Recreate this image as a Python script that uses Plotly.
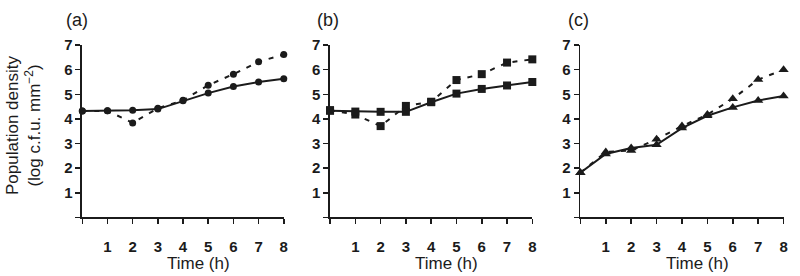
import plotly.graph_objects as go

hours = [0, 1, 2, 3, 4, 5, 6, 7, 8]

a_solid = [4.32, 4.33, 4.35, 4.40, 4.74, 5.05, 5.32, 5.50, 5.63]
a_dashed = [4.32, 4.33, 3.84, 4.43, 4.76, 5.37, 5.82, 6.32, 6.62]

b_solid = [4.33, 4.30, 4.29, 4.29, 4.68, 5.03, 5.22, 5.36, 5.50]
b_dashed = [4.36, 4.18, 3.71, 4.53, 4.70, 5.58, 5.82, 6.29, 6.42]

c_solid = [1.82, 2.58, 2.82, 2.95, 3.63, 4.13, 4.47, 4.75, 4.93]
c_dashed = [1.82, 2.66, 2.72, 3.18, 3.71, 4.18, 4.82, 5.60, 6.00]

panel_labels = ["(a)", "(b)", "(c)"]
markers = ["circle", "square", "triangle-up"]
marker_sizes = [7, 8, 9]

x_ticks = [1, 2, 3, 4, 5, 6, 7, 8]
y_ticks = [1, 2, 3, 4, 5, 6, 7]

x_title = "Time (h)"
y_title = "Population density<br>(log c.f.u. mm<sup>−2</sup>)"

series = [(a_solid, a_dashed), (b_solid, b_dashed), (c_solid, c_dashed)]

W, H = 800, 276


def px(X):
    return X / W


def py(Y):
    return 1 - Y / H


x_pix = [[82.7, 285.2], [331.7, 535.0], [583.3, 787.5]]
y_pix = [215.5, 37.3]
label_x = [77, 330, 581]

INK = "#1b1b1b"
FONT = "Liberation Sans, Arial, sans-serif"

fig = go.Figure()

for i, (solid, dashed) in enumerate(series):
    xa = "x" if i == 0 else f"x{i+1}"
    ya = "y" if i == 0 else f"y{i+1}"
    fig.add_trace(go.Scatter(
        x=hours, y=dashed, xaxis=xa, yaxis=ya, mode="lines+markers",
        line=dict(color=INK, width=2, dash="5px,7px"),
        marker=dict(symbol=markers[i], size=marker_sizes[i], color=INK),
        cliponaxis=False, showlegend=False, hoverinfo="skip"))
    fig.add_trace(go.Scatter(
        x=hours, y=solid, xaxis=xa, yaxis=ya, mode="lines+markers",
        line=dict(color=INK, width=2),
        marker=dict(symbol=markers[i], size=marker_sizes[i], color=INK),
        cliponaxis=False, showlegend=False, hoverinfo="skip"))

layout = dict(
    width=W, height=H,
    margin=dict(l=0, r=0, t=0, b=0),
    paper_bgcolor="white", plot_bgcolor="white",
    font=dict(family=FONT, color=INK),
    showlegend=False,
)

minor = dict(ticks="outside", ticklen=5, tickwidth=1.5, tickcolor=INK,
             tick0=0, dtick=1, showgrid=False)

annotations = []
for i in range(3):
    sx = "" if i == 0 else str(i + 1)
    layout["xaxis" + sx] = dict(
        domain=[px(x_pix[i][0]), px(x_pix[i][1])], range=[0, 8],
        anchor="y" + sx, tickvals=x_ticks,
        ticks="outside", ticklen=5, tickwidth=1.5, tickcolor=INK,
        minor=minor,
        showline=True, linecolor=INK, linewidth=1.8,
        showgrid=False, zeroline=False, ticklabelstandoff=10,
        tickfont=dict(size=15, weight="bold", color=INK, family=FONT),
    )
    layout["yaxis" + sx] = dict(
        domain=[py(y_pix[0]), py(y_pix[1])], range=[0, 7],
        anchor="x" + sx, tickvals=y_ticks,
        ticks="outside", ticklen=5, tickwidth=1.5, tickcolor=INK,
        minor=minor,
        showline=True, linecolor=INK, linewidth=1.8,
        showgrid=False, zeroline=False,
        tickfont=dict(size=15, weight="bold", color=INK, family=FONT),
    )
    annotations.append(dict(
        text=x_title, xref="x" + sx, x=4.6, yref="paper", y=py(263),
        xanchor="center", yanchor="middle", showarrow=False,
        font=dict(size=17, color=INK, family=FONT)))
    annotations.append(dict(
        text=panel_labels[i], xref="paper", x=px(label_x[i]),
        yref="paper", y=py(11), xanchor="center", yanchor="middle",
        showarrow=False, font=dict(size=18, color=INK, family=FONT)))

annotations.append(dict(
    text=y_title, xref="paper", x=px(23), yref="paper", y=py(120),
    xanchor="center", yanchor="middle", textangle=-90, showarrow=False,
    font=dict(size=17, color=INK, family=FONT)))

layout["annotations"] = annotations
fig.update_layout(**layout)

# remove the default page margin so the 800x276 figure fills the window exactly
fig.write_html(
    "out.html",
    config={"displayModeBar": False, "staticPlot": True},
    post_script="document.body.style.margin='0';document.body.style.padding='0';",
)
